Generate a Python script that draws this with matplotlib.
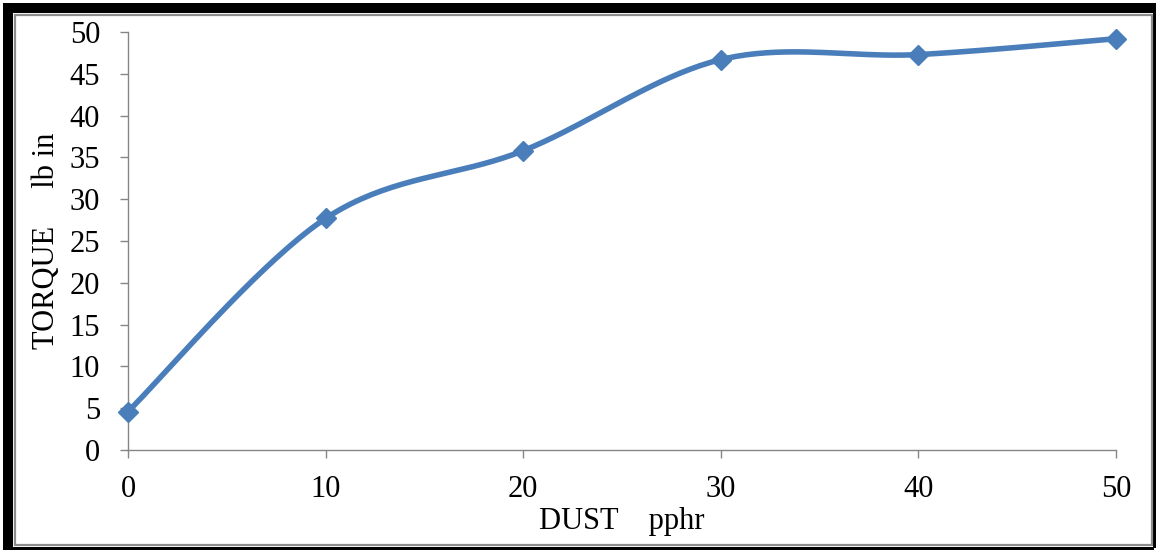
import numpy as np
import matplotlib
matplotlib.use("Agg")
import matplotlib.pyplot as plt
from matplotlib.patches import Rectangle

# Torque vs. dust loading
dust_pphr = [0, 10, 20, 30, 40, 50]
torque_lb_in = [4.6, 27.7, 35.8, 46.7, 47.3, 49.2]
x_ticks = [0, 10, 20, 30, 40, 50]
y_ticks = [0, 5, 10, 15, 20, 25, 30, 35, 40, 45, 50]
x_label = "DUST    pphr"
y_label = "TORQUE     lb in"

LINE_BLUE = "#4A7EBB"
AXIS_GRAY = "#868686"
FONT = "Liberation Serif"


def smooth_curve(x, y, n=40):
    """Catmull-Rom style cubic Bezier through the points (smoothed line)."""
    pts = np.column_stack([x, y]).astype(float)
    ext = np.vstack([pts[0], pts, pts[-1]])
    t = np.linspace(0.0, 1.0, n)[:, None]
    parts = []
    for i in range(len(pts) - 1):
        p0, p1, p2, p3 = ext[i], ext[i + 1], ext[i + 2], ext[i + 3]
        c1 = p1 + (p2 - p0) / 6.0
        c2 = p2 - (p3 - p1) / 6.0
        seg = ((1 - t) ** 3) * p1 + 3 * ((1 - t) ** 2) * t * c1 \
            + 3 * (1 - t) * t ** 2 * c2 + t ** 3 * p2
        parts.append(seg if i == 0 else seg[1:])
    arr = np.vstack(parts)
    return arr[:, 0], arr[:, 1]


W, H = 1157, 551
fig = plt.figure(figsize=(W / 100, H / 100), dpi=100)
fig.patch.set_facecolor("white")

# Picture frame around the chart
bg = fig.add_axes([0, 0, 1, 1], zorder=-1)
bg.set_xlim(0, W)
bg.set_ylim(H, 0)
bg.axis("off")
bg.patch.set_alpha(0)
for (x0, y0, w, h) in [(3, 3, W - 6, 10), (3, 3, 10, H - 6),
                       (W - 4, 3, 3, H - 6), (3, H - 4, W - 6, 3)]:
    bg.add_patch(Rectangle((x0, y0), w, h, facecolor="black", edgecolor="none"))
bg.add_patch(Rectangle((15, 15), W - 20, H - 21, facecolor="none",
                       edgecolor="#8c8c8c", linewidth=1.6))

ax = fig.add_axes([128 / W, 101 / H, 988 / W, 418 / H])
ax.set_facecolor("none")

sx, sy = smooth_curve(dust_pphr, torque_lb_in)
ax.plot(sx, sy, color=LINE_BLUE, linewidth=4.0, solid_capstyle="round",
        clip_on=False, zorder=3)
ax.plot(dust_pphr, torque_lb_in, linestyle="none", marker="D", markersize=10,
        color=LINE_BLUE, markeredgecolor=LINE_BLUE, markeredgewidth=1,
        clip_on=False, zorder=4)

ax.set_xlim(0, 50)
ax.set_ylim(0, 50)
ax.set_xticks(x_ticks)
ax.set_yticks(y_ticks)
ax.set_xticklabels([str(v) for v in x_ticks], fontfamily=FONT, fontsize=22)
ax.set_yticklabels([str(v) for v in y_ticks], fontfamily=FONT, fontsize=22)

for side in ("top", "right"):
    ax.spines[side].set_visible(False)
for side in ("left", "bottom"):
    ax.spines[side].set_color(AXIS_GRAY)
    ax.spines[side].set_linewidth(1.0)
ax.tick_params(axis="both", direction="out", length=6, width=1.0,
               color=AXIS_GRAY, labelcolor="black")
ax.tick_params(axis="y", pad=14)
ax.tick_params(axis="x", pad=12)

ax.set_xlabel(x_label, fontfamily=FONT, fontsize=22, labelpad=2)
ax.set_ylabel(y_label, fontfamily=FONT, fontsize=22, labelpad=6)

fig.savefig("out.png", dpi=100)
